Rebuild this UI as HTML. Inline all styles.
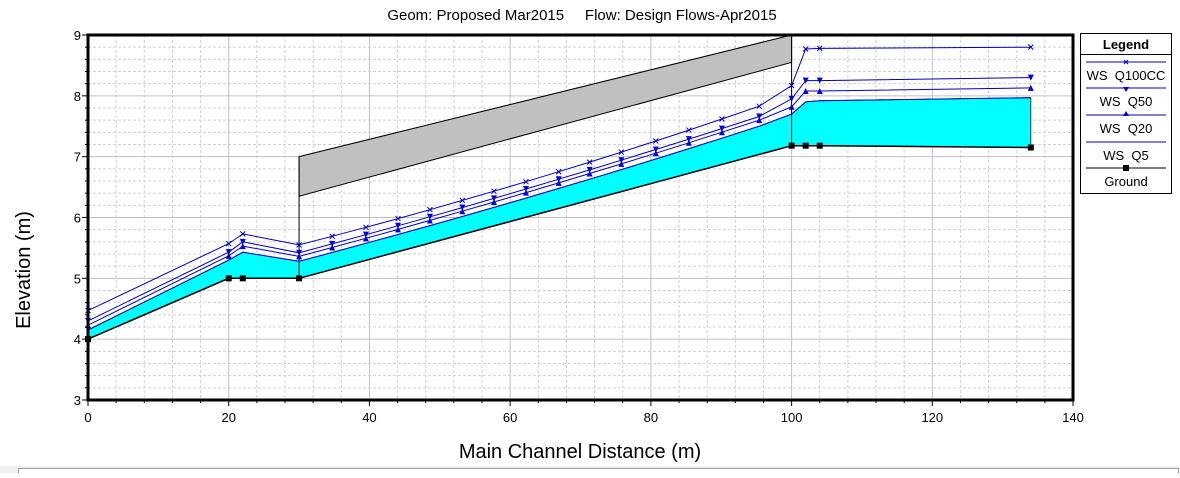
<!DOCTYPE html>
<html><head><style>
body{margin:0;background:#fff;width:1180px;height:473px;overflow:hidden;font-family:"Liberation Sans",Arial,sans-serif}
</style></head><body>
<svg id="s" width="1180" height="473" xmlns="http://www.w3.org/2000/svg" font-family="Liberation Sans, Arial, sans-serif"></svg>
<script>
const s=document.getElementById('s');
const X=m=>88+m*7.036, Y=v=>35+(9-v)*60.83;
let h='';
h+='<text x="582" y="20" font-size="15" text-anchor="middle">Geom: Proposed Mar2015&#160;&#160;&#160;&#160; Flow: Design Flows-Apr2015</text>';
for(let m=0;m<=140;m+=4){const maj=m%20==0;h+=`<line x1="${X(m)}" y1="35" x2="${X(m)}" y2="400" stroke="${maj?'#c0c0c0':'#d0d0d0'}" ${maj?'':'stroke-dasharray="3,2"'}/>`;}
for(let i=0;i<=30;i++){const v=3+i*0.2;const maj=i%5==0;h+=`<line x1="88" y1="${Y(v)}" x2="1073" y2="${Y(v)}" stroke="${maj?'#c0c0c0':'#d0d0d0'}" ${maj?'':'stroke-dasharray="3,2"'}/>`;}
const mids=[34.7,39.5,44.06,48.6,53.2,57.7,62.25,66.9,71.3,75.8,80.7,85.4,90.1,95.4];
function series(a,b,c,d,e,f,g,h2,i2,curve){
 let p=[[0,a],[20,b],[22,c],[30,d]];
 mids.forEach(m=>{let t=(m-30)/65.4;p.push([m,d+(e-d)*(t+curve*(t*t-t))]);});
 p.push([100,f],[102,g],[104,h2],[134,i2]);return p;}
const ground=[[0,4],[20,5],[22,5],[30,5],[100,7.18],[102,7.18],[104,7.18],[134,7.15]];
const q5=series(4.15,5.3,5.43,5.28,7.5,7.7,7.9,7.92,7.97,0.1);
const q20=series(4.23,5.37,5.53,5.36,7.6,7.82,8.08,8.08,8.13,0.1);
const q50=series(4.3,5.43,5.6,5.42,7.66,7.95,8.25,8.25,8.3,0.1);
const q100=series(4.47,5.57,5.73,5.55,7.83,8.17,8.77,8.78,8.8,0.15);
const pts=a=>a.map(p=>X(p[0]).toFixed(1)+','+Y(p[1]).toFixed(1)).join(' ');
h+=`<polygon points="${pts(q5)} ${pts(ground.slice().reverse())}" fill="#00ffff" stroke="#000" stroke-width="0.8"/>`;
h+=`<polygon points="${X(30)},${Y(7)} ${X(100)},${Y(9)} ${X(100)},${Y(8.55)} ${X(30)},${Y(6.35)}" fill="#c0c0c0" stroke="#000"/>`;
h+=`<line x1="${X(30)}" y1="${Y(7)}" x2="${X(30)}" y2="${Y(5)}" stroke="#000"/>`;
h+=`<line x1="${X(100)}" y1="${Y(9)}" x2="${X(100)}" y2="${Y(7.18)}" stroke="#000"/>`;
h+=`<polyline points="${pts(ground)}" fill="none" stroke="#000" stroke-width="1.5"/>`;
[q5,q20,q50,q100].forEach(q=>h+=`<polyline points="${pts(q)}" fill="none" stroke="#0000c0" stroke-width="1"/>`);
q100.forEach(p=>{const x=X(p[0]),y=Y(p[1]);h+=`<path d="M${x-2.5},${y-2.5}L${x+2.5},${y+2.5}M${x-2.5},${y+2.5}L${x+2.5},${y-2.5}" stroke="#0000c0"/>`;});
q50.forEach(p=>{const x=X(p[0]),y=Y(p[1]);h+=`<polygon points="${x-3},${y-3} ${x+3},${y-3} ${x},${y+3}" fill="#0000e0"/>`;});
q20.forEach(p=>{const x=X(p[0]),y=Y(p[1]);h+=`<polygon points="${x-3},${y+3} ${x+3},${y+3} ${x},${y-3}" fill="#0000e0"/>`;});
ground.forEach(p=>{h+=`<rect x="${X(p[0])-3}" y="${Y(p[1])-3}" width="6" height="6" fill="#000"/>`;});
h+=`<rect x="88" y="35" width="985" height="365" fill="none" stroke="#000" stroke-width="3"/>`;
for(let v=3;v<=9;v++)h+=`<text x="81" y="${Y(v)+5}" font-size="13" text-anchor="end">${v}</text>`;
for(let m=0;m<=140;m+=20)h+=`<text x="${X(m)}" y="422" font-size="13" text-anchor="middle">${m}</text>`;
for(let m=0;m<=140;m+=4)h+=`<line x1="${X(m)}" y1="400" x2="${X(m)}" y2="${m%20==0?406:403}" stroke="#000"/>`;
for(let i=0;i<=30;i++)h+=`<line x1="${i%5==0?82:85}" y1="${Y(3+i*0.2)}" x2="88" y2="${Y(3+i*0.2)}" stroke="#000"/>`;
h+=`<text x="580" y="458" font-size="20" text-anchor="middle">Main Channel Distance (m)</text>`;
h+=`<text transform="translate(30,270) rotate(-90)" font-size="20" text-anchor="middle">Elevation (m)</text>`;
h+=`<rect x="1080.5" y="33.5" width="91" height="160" fill="#fff" stroke="#000"/>`;
h+=`<line x1="1080" y1="54.5" x2="1172" y2="54.5" stroke="#000"/>`;
h+=`<text x="1126" y="49" font-size="13" font-weight="bold" text-anchor="middle">Legend</text>`;
const L=[['WS&#160; Q100CC',62,'x'],['WS&#160; Q50',88,'v'],['WS&#160; Q20',115,'^'],['WS&#160; Q5',142,''],['Ground',168,'s']];
L.forEach(([t,y,mk])=>{const c=mk=='s'?'#000':'#0000c0';h+=`<line x1="1086" y1="${y}" x2="1166" y2="${y}" stroke="${c}"/>`;
 const x=1126;
 if(mk=='x')h+=`<path d="M${x-2},${y-2}L${x+2},${y+2}M${x-2},${y+2}L${x+2},${y-2}" stroke="#0000c0"/>`;
 if(mk=='v')h+=`<polygon points="${x-3},${y-1} ${x+3},${y-1} ${x},${y+4}" fill="#0000e0"/>`;
 if(mk=='^')h+=`<polygon points="${x-3},${y+1} ${x+3},${y+1} ${x},${y-4}" fill="#0000e0"/>`;
 if(mk=='s')h+=`<rect x="${x-3}" y="${y-3}" width="6" height="6" fill="#000"/>`;
 h+=`<text x="${x}" y="${y+18}" font-size="13" text-anchor="middle">${t}</text>`;});
h+=`<rect x="0" y="466" width="1180" height="7" fill="#f0f0f0"/><rect x="18.5" y="468.5" width="1160" height="6" fill="#fff" stroke="#a0a0a0"/>`;
s.innerHTML=h;
</script>
</body></html>
